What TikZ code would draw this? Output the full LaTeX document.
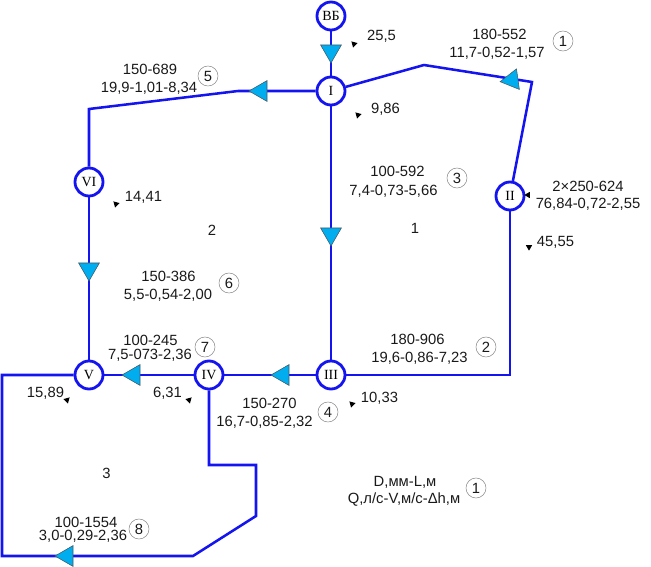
\documentclass[tikz,border=0pt]{standalone}
\usepackage{fontspec}
\setmainfont{Liberation Sans}
\newfontfamily\serifnum{Liberation Serif}
\usetikzlibrary{shapes.geometric}
\definecolor{pipeblue}{RGB}{20,20,240}
\definecolor{flowcyan}{RGB}{0,174,239}
\tikzset{
  junction/.style={circle, draw=pipeblue, line width=2.1pt, fill=white, minimum size=21pt, inner sep=0pt, font=\serifnum\fontsize{10.5}{10.5}\selectfont},
  pipe/.style={draw=pipeblue, line width=1.9pt},
  flow/.style={regular polygon, regular polygon sides=3, draw=black!70!cyan, line width=0.4pt, fill=flowcyan, minimum size=18pt, inner sep=0pt},
  head/.style={regular polygon, regular polygon sides=3, fill=black, minimum size=5.5pt, inner sep=0pt},
  lbl/.style={font=\fontsize{11.1}{11.1}\selectfont, text=black!90, inner sep=0pt},
  num/.style={circle, draw=black!45, line width=0.4pt, minimum size=15pt, inner sep=0pt, font=\fontsize{11.1}{11.1}\selectfont, text=black!90}
}
\begin{document}
\begin{tikzpicture}[x=0.75pt,y=-0.75pt]
\useasboundingbox (0,0) rectangle (651,567);
% bends of the pipes
\coordinate (bendA) at (424,65);
\coordinate (bendB) at (532,82);
\coordinate (bendC) at (238,91);
\coordinate (bendD) at (89,109);
\coordinate (bendE) at (510,375);
\coordinate (bendF) at (209,465);
\coordinate (bendG) at (256,465);
\coordinate (bendH) at (256,516);
\coordinate (bendI) at (193,556);
\coordinate (bendJ) at (2,556);
\coordinate (bendK) at (2,375);
% junctions
\node[junction] (vb) at (331,16) {ВБ};
\node[junction] (n1) at (331,91) {I};
\node[junction] (n2) at (510,196) {II};
\node[junction] (n3) at (331,375) {III};
\node[junction] (n4) at (209,375) {IV};
\node[junction] (n5) at (89,375) {V};
\node[junction] (n6) at (89,182) {VI};
% pipes
\draw[pipe] (vb) -- (n1);
\draw[pipe] (n1) -- (bendA) -- (bendB) -- (n2);
\draw[pipe] (n1) -- (bendC) -- (bendD) -- (n6);
\draw[pipe] (n1) -- (n3);
\draw[pipe] (n2) -- (bendE) -- (n3);
\draw[pipe] (n3) -- (n4);
\draw[pipe] (n4) -- (n5);
\draw[pipe] (n6) -- (n5);
\draw[pipe] (n4) -- (bendF) -- (bendG) -- (bendH) -- (bendI) -- (bendJ) -- (bendK) -- (n5);
% flow direction
\node[flow, rotate=180] (fa) at (331,51) {};
\node[flow, rotate=98] (fb) at (512,80) {};
\node[flow, rotate=90] (fc) at (261,91) {};
\node[flow, rotate=180] (fd) at (331,234) {};
\node[flow, rotate=180] (fe) at (89,269) {};
\node[flow, rotate=90] (ff) at (283,375) {};
\node[flow, rotate=90] (fg) at (134,375) {};
\node[flow, rotate=90] (fh) at (67,556) {};
% small heads beside the flows
\foreach \i/\px/\py/\ang in {1/354/44/45, 2/358/115/45, 3/528/195/90, 4/529/247/60, 5/116/204/45, 6/67/400/-45, 7/189/400/-45, 8/352/404/45} {
    \node[head, rotate=\ang] (head\i) at (\px,\py) {};
}
% numbers of the pipes
\foreach \i/\px/\py/\txt in {a/563/41/1, b/486/347/2, c/457/178/3, d/328/412/4, e/208/76/5, f/229/283/6, g/205/347/7, h/139/529/8, k/476/488/1} {
    \node[num] (num\i) at (\px,\py) {\txt};
}
% annotations
\node[lbl] (qa) at (381.5,36) {25,5};
\node[lbl] (qb) at (385.5,109) {9,86};
\node[lbl] (qc) at (143.5,197) {14,41};
\node[lbl] (qd) at (555.5,242) {45,55};
\node[lbl] (qe) at (45.5,393) {15,89};
\node[lbl] (qf) at (167.5,393) {6,31};
\node[lbl] (qg) at (379.5,398) {10,33};
\node[lbl] (ra) at (415,228) {1};
\node[lbl] (rb) at (212,230) {2};
\node[lbl] (rc) at (106.5,473) {3};
\node[lbl] (la) at (499.5,34) {180-552};
\node[lbl] (lb) at (497,53) {11,7-0,52-1,57};
\node[lbl] (lc) at (150,69) {150-689};
\node[lbl] (ld) at (149,88) {19,9-1,01-8,34};
\node[lbl] (le) at (397.5,171) {100-592};
\node[lbl] (lf) at (393.5,191) {7,4-0,73-5,66};
\node[lbl] (lg) at (588,186) {2×250-624};
\node[lbl] (lh) at (588,204) {76,84-0,72-2,55};
\node[lbl] (li) at (168.5,276) {150-386};
\node[lbl] (lj) at (168,295) {5,5-0,54-2,00};
\node[lbl] (lk) at (417.5,339) {180-906};
\node[lbl] (ll) at (419.5,358) {19,6-0,86-7,23};
\node[lbl] (lm) at (150.5,340) {100-245};
\node[lbl] (ln) at (150,355) {7,5-073-2,36};
\node[lbl] (lo) at (269.5,403) {150-270};
\node[lbl] (lp) at (264.5,422) {16,7-0,85-2,32};
\node[lbl] (lq) at (86,522) {100-1554};
\node[lbl] (lr) at (83,536) {3,0-0,29-2,36};
\node[lbl] (ls) at (405,482) {D,мм-L,м};
\node[lbl] (lt) at (404,500) {Q,л/с-V,м/с-Δh,м};
\end{tikzpicture}
\end{document}
